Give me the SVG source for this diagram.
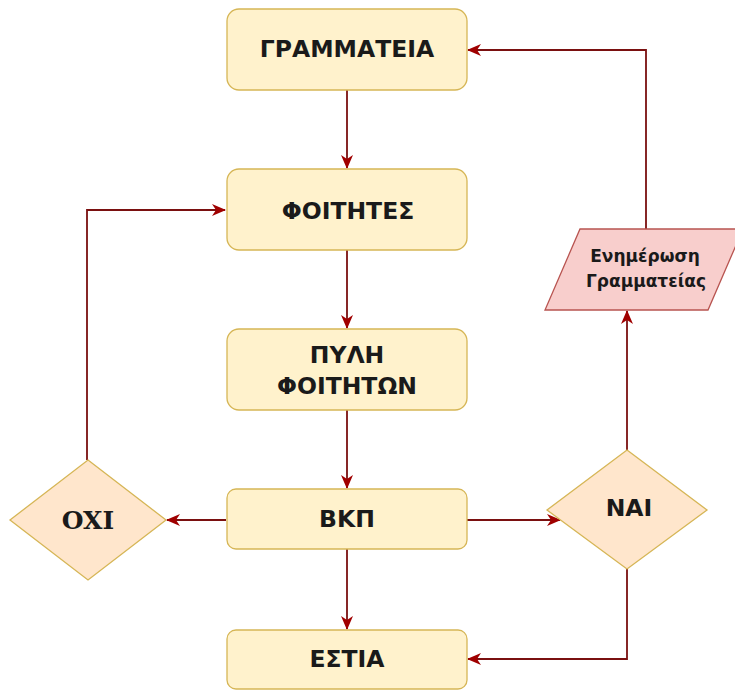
<svg xmlns="http://www.w3.org/2000/svg" width="735" height="691" viewBox="0 0 735 691">
<style>
.box{fill:#fff2cc;stroke:#d6b656;stroke-width:1.3}
.dia{fill:#ffe6cc;stroke:#d6b656;stroke-width:1.3}
.par{fill:#f8cecc;stroke:#b85450;stroke-width:1.3}
.t{font-family:"DejaVu Sans",Verdana,sans-serif;font-weight:bold;font-size:23.5px;fill:#1a1a1a;text-anchor:middle;dominant-baseline:central}
.ts{font-size:17px}
.tserif{font-family:"DejaVu Serif",serif;font-size:25px}
.c{fill:none;stroke:#7a1010;stroke-width:1.8}
</style>
<defs>
<marker id="ah" viewBox="0 0 14 12" refX="13" refY="6" markerWidth="14" markerHeight="12" markerUnits="userSpaceOnUse" orient="auto">
<path d="M0,0 L14,6 L0,12 L4,6 Z" fill="#a00000"/>
</marker>
</defs>
<g id="connectors">
<path class="c" d="M347,90 V168" marker-end="url(#ah)"/>
<path class="c" d="M347,250 V328" marker-end="url(#ah)"/>
<path class="c" d="M347,410 V488" marker-end="url(#ah)"/>
<path class="c" d="M347,549 V629" marker-end="url(#ah)"/>
<path class="c" d="M226,520 H167" marker-end="url(#ah)"/>
<path class="c" d="M87,460 V210 H225" marker-end="url(#ah)"/>
<path class="c" d="M467,520 H560" marker-end="url(#ah)"/>
<path class="c" d="M627,450 V311" marker-end="url(#ah)"/>
<path class="c" d="M646,229 V50 H468" marker-end="url(#ah)"/>
<path class="c" d="M627,569 V659 H468" marker-end="url(#ah)"/>
</g>
<g id="grammateia"><rect class="box" x="227" y="9" width="240" height="81" rx="12"/><text class="t" x="347" y="49">ΓΡΑΜΜΑΤΕΙΑ</text></g>
<g id="foitites"><rect class="box" x="227" y="169" width="240" height="81" rx="12"/><text class="t" x="348" y="211">ΦΟΙΤΗΤΕΣ</text></g>
<g id="pyli"><rect class="box" x="227" y="329" width="240" height="81" rx="12"/><text class="t" x="347" y="355">ΠΥΛΗ</text><text class="t" x="347" y="386">ΦΟΙΤΗΤΩΝ</text></g>
<g id="bkp"><rect class="box" x="227" y="489" width="240" height="60" rx="9"/><text class="t" x="347" y="519">ΒΚΠ</text></g>
<g id="estia"><rect class="box" x="227" y="630" width="240" height="59" rx="9"/><text class="t" x="347" y="659">ΕΣΤΙΑ</text></g>
<g id="oxi"><polygon class="dia" points="88,460 166,520 88,580 10,520"/><text class="t tserif" x="88" y="520">OXI</text></g>
<g id="nai"><polygon class="dia" points="627,450 707,510 627,569 547,510"/><text class="t" x="629" y="508">NAI</text></g>
<g id="enimerosi"><polygon class="par" points="580,229 743,229 708,310 545,310"/><text class="t ts" x="645" y="256">Ενημέρωση</text><text class="t ts" x="646" y="281">Γραμματείας</text></g>
</svg>
